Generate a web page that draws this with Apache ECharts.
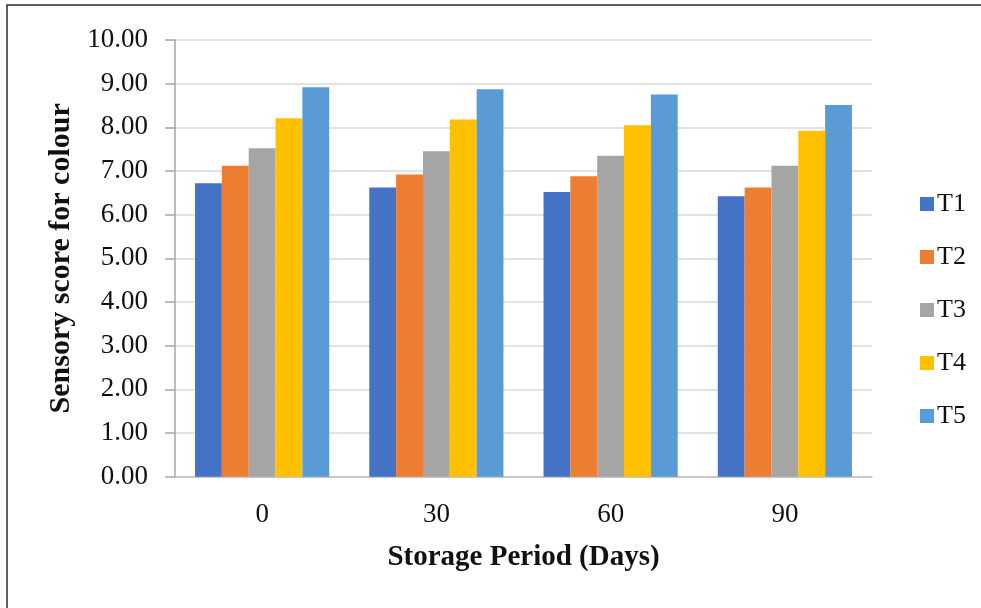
<!DOCTYPE html>
<html>
<head>
<meta charset="utf-8">
<script src="https://cdn.jsdelivr.net/npm/echarts@6/dist/echarts.min.js"></script>
<style>
html,body{margin:0;padding:0;background:#fff;}
#c{width:981px;height:608px;}
</style>
</head>
<body>
<div id="c"></div>
<script>
var categories = ['0', '30', '60', '90'];
var seriesNames = ['T1', 'T2', 'T3', 'T4', 'T5'];
var T1 = [6.72, 6.62, 6.52, 6.42];
var T2 = [7.12, 6.92, 6.88, 6.62];
var T3 = [7.52, 7.45, 7.35, 7.12];
var T4 = [8.21, 8.18, 8.05, 7.92];
var T5 = [8.92, 8.87, 8.75, 8.51];
var colors = ['#4472C4', '#ED7D31', '#A5A5A5', '#FFC000', '#5B9BD5'];
var yMin = 0, yMax = 10, yStep = 1;

var values = [T1, T2, T3, T4, T5];
var font = '"Liberation Serif", "Times New Roman", serif';
var chart = echarts.init(document.getElementById('c'));
chart.setOption({
  animation: false,
  color: colors,
  graphic: [{
    type: 'rect', silent: true, z: -1,
    shape: {x: 7, y: 5, width: 1100, height: 800},
    style: {fill: 'none', stroke: '#2a2a2a', lineWidth: 1.5}
  }],
  grid: {left: 175, right: 109, top: 40, bottom: 131.3, containLabel: false},
  legend: {
    orient: 'vertical', left: 915, top: 186,
    itemWidth: 14, itemHeight: 14, itemGap: 27,
    icon: 'rect',
    textStyle: {fontFamily: font, fontSize: 26, color: '#111', lineHeight: 26, padding: [0,0,0,-2]},
    data: seriesNames
  },
  xAxis: {
    type: 'category', data: categories,
    name: 'Storage Period (Days)', nameLocation: 'middle', nameGap: 66,
    nameTextStyle: {fontFamily: font, fontSize: 29, fontWeight: 'bold', color: '#111'},
    axisLine: {lineStyle: {color: '#bfbfbf', width: 1.5}},
    axisTick: {show: false},
    axisLabel: {fontFamily: font, fontSize: 27, color: '#111', margin: 25}
  },
  yAxis: {
    type: 'value', min: yMin, max: yMax, interval: yStep,
    name: 'Sensory score for colour', nameLocation: 'middle', nameGap: 98,
    nameTextStyle: {fontFamily: font, fontSize: 30, fontWeight: 'bold', color: '#111'},
    axisLine: {show: true, lineStyle: {color: '#a6a6a6', width: 1.5}},
    axisTick: {show: true, length: 10, lineStyle: {color: '#a6a6a6', width: 1.5}},
    splitLine: {lineStyle: {color: '#d9d9d9', width: 1.5}},
    axisLabel: {fontFamily: font, fontSize: 27, color: '#111', margin: 27,
      formatter: function (v) { return v.toFixed(2); }}
  },
  series: seriesNames.map(function (n, i) {
    return {
      name: n, type: 'bar', data: values[i],
      barGap: '0%', barCategoryGap: '23%'
    };
  })
});
</script>
</body>
</html>
